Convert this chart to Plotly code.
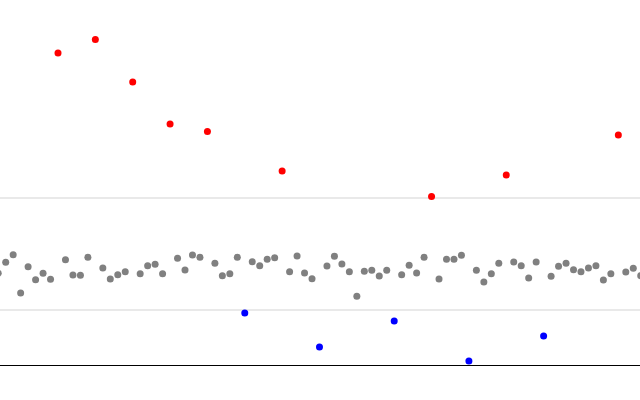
import plotly.graph_objects as go

# Gray (in-control) points
gray_x = [0, 1, 2, 3, 4, 5, 6, 7, 9, 10, 11, 12, 14, 15, 16, 17, 19, 20, 21, 22,
          24, 25, 26, 27, 29, 30, 31, 32, 34, 35, 36, 37, 39, 40, 41, 42, 44, 45,
          46, 47, 48, 49, 50, 51, 52, 54, 55, 56, 57, 59, 60, 61, 62, 64, 65, 66,
          67, 69, 70, 71, 72, 74, 75, 76, 77, 78, 79, 80, 81, 82, 84, 85, 86]
gray_y = [9.17, 10.27, 11.03, 7.2, 9.83, 8.53, 9.17, 8.57, 10.53, 9.0, 8.97, 10.77,
          9.7, 8.6, 9.03, 9.33, 9.13, 9.93, 10.07, 9.13, 10.67, 9.5, 11.0, 10.77,
          10.17, 8.93, 9.13, 10.77, 10.33, 9.93, 10.57, 10.73, 9.33, 10.9, 9.2, 8.63,
          9.9, 10.87, 10.1, 9.33, 6.87, 9.37, 9.47, 8.9, 9.47, 9.03, 9.97, 9.2, 10.77,
          8.6, 10.57, 10.57, 10.97, 9.47, 8.3, 9.13, 10.17, 10.3, 9.93, 8.7, 10.3,
          8.87, 9.87, 10.17, 9.53, 9.33, 9.7, 9.93, 8.5, 9.13, 9.3, 9.67, 8.93]

# Points above the upper limit
high_x = [8, 13, 18, 23, 28, 38, 58, 68, 83]
high_y = [31.2, 32.55, 28.3, 24.1, 23.35, 19.4, 16.85, 19.0, 23.0]

# Points below the lower limit
low_x = [33, 43, 53, 63, 73]
low_y = [5.2, 1.8, 4.4, 0.4, 2.9]

# Control limits
ucl = 16.7
lcl = 5.5

fig = go.Figure()
fig.add_trace(go.Scatter(x=gray_x, y=gray_y, mode="markers",
                         marker=dict(color="#808080", size=7), showlegend=False))
fig.add_trace(go.Scatter(x=high_x, y=high_y, mode="markers",
                         marker=dict(color="#ff0000", size=7), showlegend=False))
fig.add_trace(go.Scatter(x=low_x, y=low_y, mode="markers",
                         marker=dict(color="#0000ff", size=7), showlegend=False))

for lim in (ucl, lcl):
    fig.add_shape(type="line", xref="paper", x0=0, x1=1, yref="y", y0=lim, y1=lim,
                  line=dict(color="#d3d3d3", width=1), layer="below")

fig.update_layout(
    width=640, height=400,
    margin=dict(l=0, r=0, t=0, b=35),
    paper_bgcolor="white", plot_bgcolor="white",
    xaxis=dict(range=[0.237, 85.9], showgrid=False, zeroline=False,
               showticklabels=False, showline=True, linecolor="#000000",
               linewidth=1),
    yaxis=dict(range=[0, 36.5], showgrid=False, zeroline=False,
               showticklabels=False),
)

fig.write_html("out.html",
               config={"displayModeBar": False},
               post_script="document.body.style.margin='0';document.body.style.overflow='hidden';")
